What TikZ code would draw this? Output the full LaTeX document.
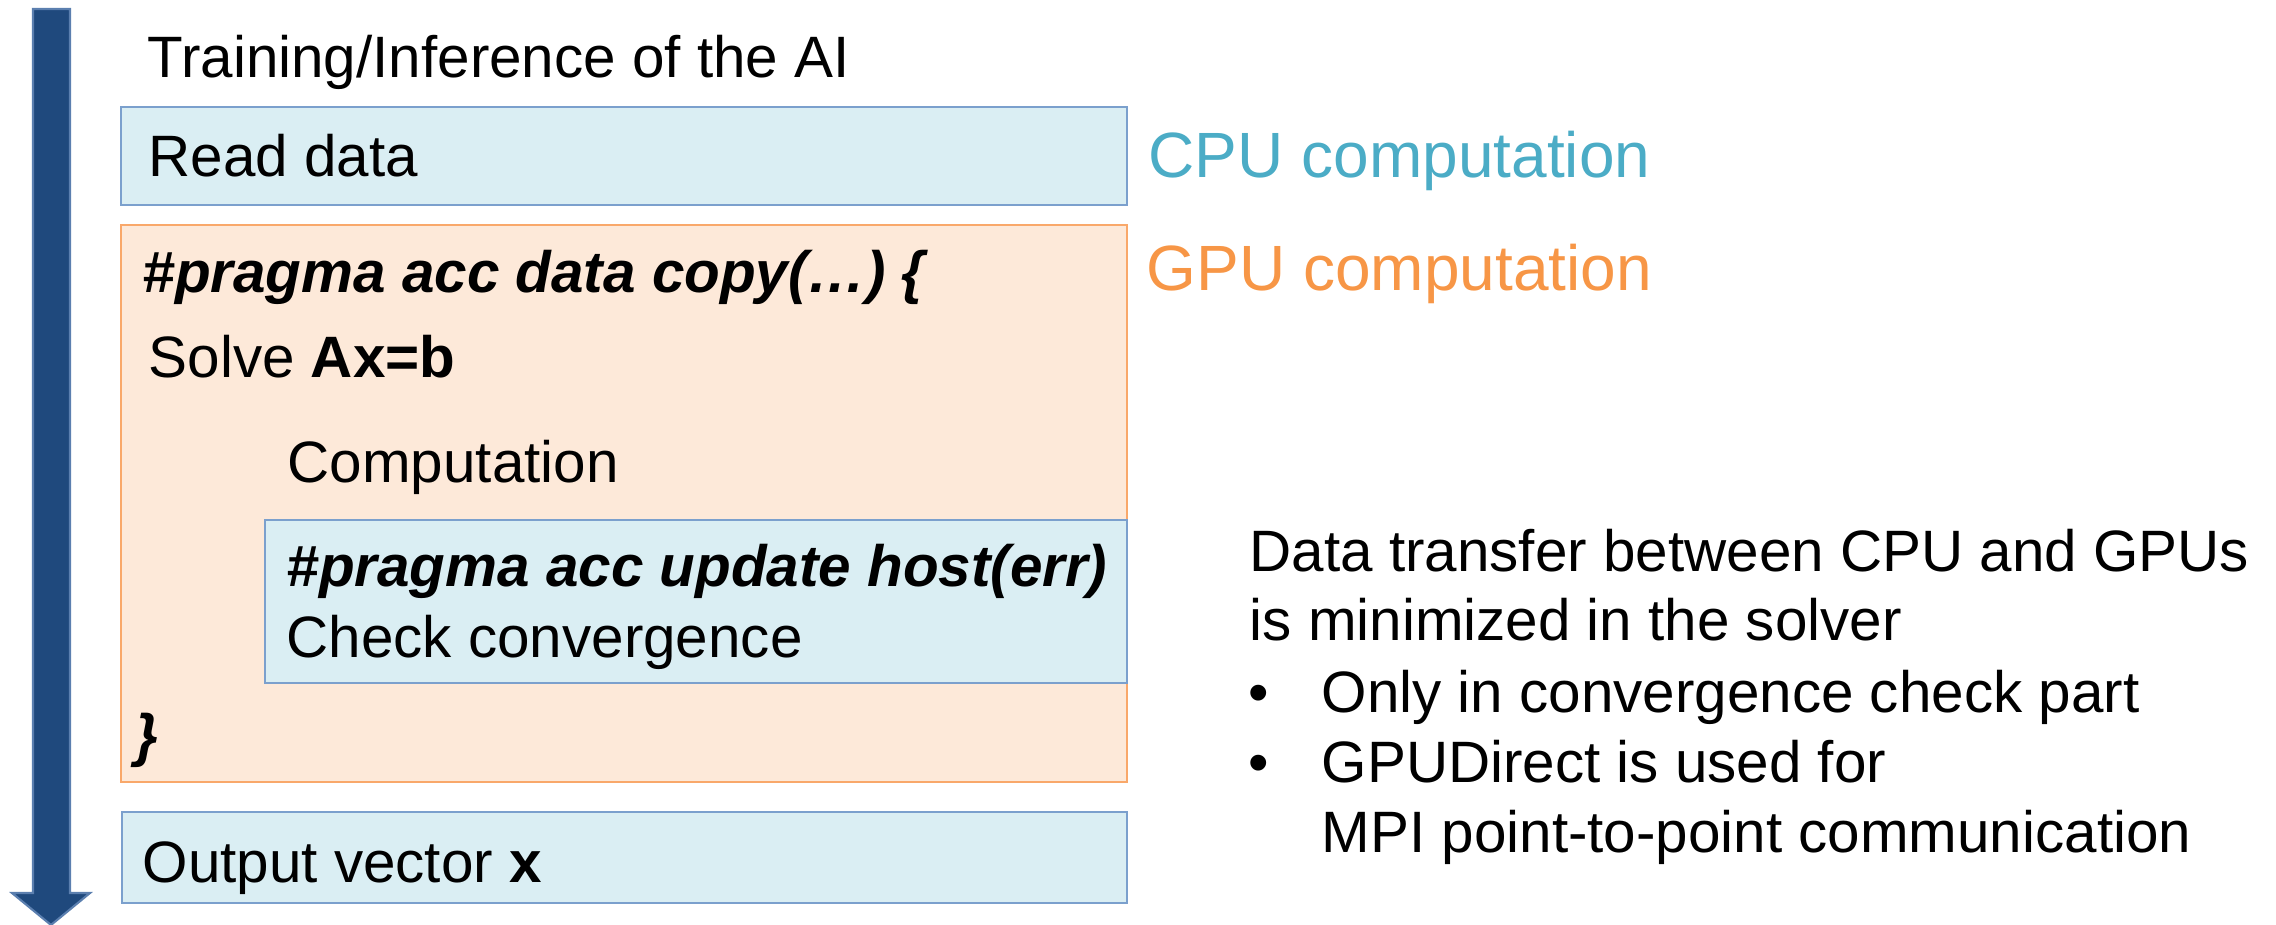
\documentclass[tikz,border=0pt]{standalone}
\usepackage{fontspec}
\setmainfont{Liberation Sans}
\usetikzlibrary{calc}

\definecolor{cpufill}{HTML}{DAEEF3}
\definecolor{cpuline}{HTML}{7BA0CD}
\definecolor{gpufill}{HTML}{FDE9D9}
\definecolor{gpuline}{HTML}{F9A86A}
\definecolor{cputext}{HTML}{4BACC6}
\definecolor{gputext}{HTML}{F79646}
\definecolor{flowblue}{HTML}{1F497D}
\definecolor{flowedge}{HTML}{5B7FAF}

\newcommand{\bodyfont}{\fontsize{16.6}{20}\selectfont}
\newcommand{\tagfont}{\fontsize{18.2}{22}\selectfont}

\tikzset{
	cpubox/.style={fill=cpufill, draw=cpuline, line width=0.5pt},
	gpubox/.style={fill=gpufill, draw=gpuline, line width=0.5pt},
	txt/.style={anchor=base west, inner sep=0pt, font=\bodyfont},
	code/.style={txt, font=\bodyfont\bfseries\itshape}
}

\begin{document}
\begin{tikzpicture}[x=0.01cm, y=-0.01cm]
				\useasboundingbox (0, 0) rectangle (2276, 925);
				
				% time arrow on the left
				\draw[fill=flowblue, draw=flowedge, line width=0.6pt] (33, 9) -- (70, 9) -- (70, 893) -- (90, 893) -- (51, 925) -- (12, 893) -- (33, 893) -- cycle;
				
				\node[txt] (title) at (147, 78) {Training/Inference of the AI};
				
				% CPU part
				\draw[cpubox] (121, 107) rectangle (1127, 205);
				\node[txt] (read) at (148, 177) {Read data};
				\node[txt, font=\tagfont, text=cputext] (cpu) at (1148, 178) {CPU computation};
				
				% GPU part
				\draw[gpubox] (121, 225) rectangle (1127, 782);
				\node[txt, font=\tagfont, text=gputext] (gpu) at (1146, 291) {GPU computation};
				\node[code] (pragmadata) at (142, 293) {\#pragma acc data copy(…) \{};
				\node[txt] (solve) at (148, 378) {Solve \textbf{Ax=b}};
				\node[txt] (comp) at (287, 483) {Computation};
				
				\draw[cpubox] (265, 520) rectangle (1127, 683);
				\node[code] (pragmaupdate) at (286, 587) {\#pragma acc update host(err)};
				\node[txt] (check) at (286, 657) {Check convergence};
				\node[code] (brace) at (135, 755) {\}};
				
				\draw[cpubox] (122, 812) rectangle (1127, 903);
				\node[txt] (output) at (142, 882) {Output vector \textbf{x}};
				
				% notes on the right
				\node[txt] (note1) at (1249, 572) {Data transfer between CPU and GPUs};
				\node[txt] (note2) at (1249, 640) {is minimized in the solver};
				\node[txt] (dot1) at (1248, 712) {•};
				\node[txt] (item1) at (1321, 712) {Only in convergence check part};
				\node[txt] (dot2) at (1248, 782) {•};
				\node[txt] (item2) at (1321, 782) {GPUDirect is used for};
				\node[txt] (item3) at (1321, 852) {MPI point-to-point communication};
			\end{tikzpicture}
\end{document}
